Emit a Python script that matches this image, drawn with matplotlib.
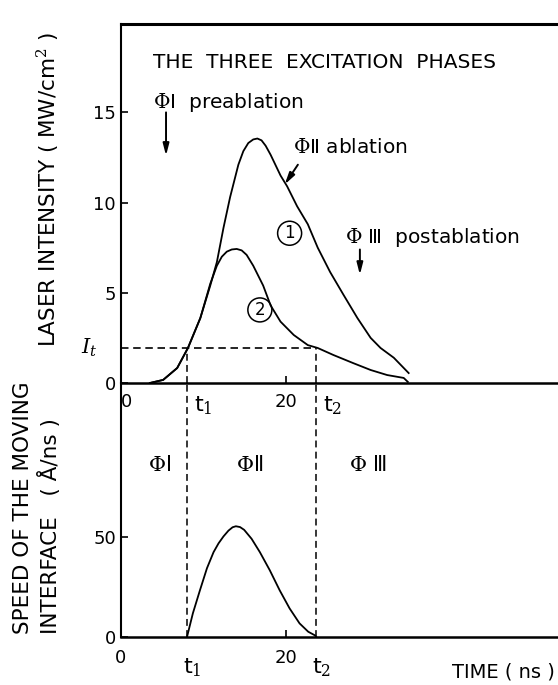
import matplotlib
matplotlib.use("Agg")
import matplotlib.pyplot as plt

plt.rcParams['font.family'] = ['DejaVu Sans']
plt.rcParams['mathtext.fontset'] = 'dejavuserif'

# laser pulses (ns, MW/cm2)
t_pulse1 = [3.5, 5.1, 6.8, 8.1, 9.6, 10.8, 11.6, 12.4, 13.2, 14.2, 14.8, 15.4,
            16.0, 16.5, 17.0, 17.5, 18.1, 19.3, 20.1, 21.3, 22.6, 23.8, 25.3,
            26.9, 28.6, 30.2, 31.4, 33.0, 34.8]
i_pulse1 = [0.0, 0.17, 0.83, 1.94, 3.6, 5.4, 6.7, 8.6, 10.3, 12.1, 12.85, 13.3,
            13.5, 13.55, 13.45, 13.15, 12.65, 11.5, 10.9, 9.8, 8.8, 7.5, 6.15,
            4.9, 3.6, 2.5, 1.94, 1.4, 0.55]
t_pulse2 = [3.5, 5.1, 6.8, 8.1, 9.6, 10.8, 11.6, 12.2, 12.8, 13.4, 14.0, 14.6,
            15.2, 16.0, 17.2, 18.1, 19.3, 20.9, 22.6, 23.8, 25.7, 28.1, 30.2,
            32.2, 34.2, 34.7]
i_pulse2 = [0.0, 0.17, 0.83, 1.94, 3.6, 5.5, 6.5, 7.0, 7.28, 7.4, 7.43, 7.35,
            7.1, 6.5, 5.4, 4.3, 3.4, 2.66, 2.1, 1.94, 1.55, 1.1, 0.72,
            0.44, 0.28, 0.06]

# speed of the moving interface (A/ns)
t_speed = [8.0, 8.7, 9.55, 10.4, 11.2, 11.8, 12.4, 13.0, 13.5, 13.9, 14.4,
           14.9, 15.8, 16.8, 18.0, 19.2, 20.4, 21.6, 22.65, 23.45, 23.6]
v_speed = [0.0, 11.7, 23.2, 34.3, 42.4, 46.8, 50.3, 53.2, 54.9, 55.4, 55.0,
           53.6, 49.1, 42.4, 33.3, 23.2, 14.1, 6.6, 2.4, 0.6, 0.0]

I_t = 1.95
t1 = 8.0
t2 = 23.6

fig = plt.figure(figsize=(5.58, 6.85), dpi=100)
ax1 = fig.add_axes([0.2168, 0.4409, 0.7867, 0.5241])
ax2 = fig.add_axes([0.2168, 0.0708, 0.7867, 0.3701])
ax2.patch.set_visible(False)

lw = 1.3
dash = (0, (4.5, 2.8))

ax1.plot(t_pulse1, i_pulse1, color='black', lw=lw)
ax1.plot(t_pulse2, i_pulse2, color='black', lw=lw)
ax1.hlines(I_t, 0, t2, colors='black', lw=1.2, linestyles=dash)
ax1.vlines([t1, t2], 0, I_t, colors='black', lw=1.1, linestyles=dash)
ax1.set_xlim(0, 53.1)
ax1.set_ylim(0, 19.9)

ax2.plot(t_speed, v_speed, color='black', lw=lw)
ax2.vlines([t1, t2], 0, 127.4, colors='black', lw=1.1, linestyles=dash)
ax2.set_xlim(0, 53.1)
ax2.set_ylim(0, 127.4)

for ax in (ax1, ax2):
    ax.spines['right'].set_visible(False)
    ax.spines['left'].set_linewidth(1.5)
    ax.spines['bottom'].set_linewidth(1.8)
    ax.tick_params(direction='in', length=5, width=1.2, labelsize=13,
                   top=False, right=False)
ax1.spines['top'].set_linewidth(2.2)
ax2.spines['top'].set_visible(False)

ax1.set_yticks([0, 5, 10, 15])
ax1.set_xticks([0, 20], ['0', '20'])
ax1.tick_params(axis='x', pad=7)
ax1.get_xticklabels()[0].set_ha('left')
ax2.set_yticks([0, 50])
ax2.set_xticks([0, 20], ['0', '20'])
ax2.tick_params(axis='x', pad=9)

# t1 / t2 labels
for t, s in ((t1, r't$_1$'), (t2, r't$_2$')):
    ax1.annotate(s, xy=(t, 0), xycoords=('data', 'axes fraction'),
                 xytext=(5, -8), textcoords='offset points',
                 ha='left', va='top', fontsize=16)
    ax2.annotate(s, xy=(t, 0), xycoords=('data', 'axes fraction'),
                 xytext=(4, -14), textcoords='offset points',
                 ha='center', va='top', fontsize=16)

ax1.annotate(r'$I_t$', xy=(0, I_t), xycoords=('axes fraction', 'data'),
             xytext=(-17, 0), textcoords='offset points',
             ha='right', va='center', fontsize=15)

# annotations in the top panel
ax1.text(3.9, 17.75, 'THE  THREE  EXCITATION  PHASES', fontsize=14.5,
         ha='left', va='center')
ax1.text(3.9, 15.25, r'$\Phi$Ⅰ  preablation', fontsize=14.5,
         ha='left', va='baseline')
ax1.text(20.8, 12.75, r'$\Phi$Ⅱ ablation', fontsize=14.5,
         ha='left', va='baseline')
ax1.text(27.1, 7.76, r'$\Phi$ Ⅲ  postablation', fontsize=14.5,
         ha='left', va='baseline')

arrow = dict(arrowstyle='-|>,head_width=0.18,head_length=0.7', lw=1.4,
             color='black', shrinkA=0, shrinkB=0)
ax1.annotate('', xy=(5.45, 12.6), xytext=(5.45, 15.0), arrowprops=arrow)
ax1.annotate('', xy=(28.9, 6.0), xytext=(28.9, 7.4), arrowprops=arrow)
ax1.annotate('', xy=(19.8, 11.0), xytext=(21.4, 12.1), arrowprops=arrow)

circ = dict(boxstyle='circle,pad=0.18', fc='none', ec='black', lw=1.1)
ax1.text(20.4, 8.3, '1', fontsize=12, ha='center', va='center', bbox=circ)
ax1.text(16.8, 4.05, '2', fontsize=12, ha='center', va='center', bbox=circ)

# phase labels in the lower panel
ax2.text(4.7, 86, r'$\Phi$Ⅰ', fontsize=15, ha='center', va='center')
ax2.text(15.6, 86, r'$\Phi$Ⅱ', fontsize=15, ha='center', va='center')
ax2.text(29.9, 86, r'$\Phi$ Ⅲ', fontsize=15, ha='center', va='center')

fig.text(48 / 558, 1 - 190 / 685, r'LASER INTENSITY ( MW/cm$^2$ )',
         rotation=90, ha='center', va='center', fontsize=15.5)
fig.text(37 / 558, 1 - 634 / 685, 'SPEED OF THE MOVING\nINTERFACE   ( Å/ns )',
         rotation=90, ha='center', va='bottom', multialignment='left',
         linespacing=1.3, fontsize=15.5)
fig.text(555 / 558, 1 - 672 / 685, 'TIME ( ns )', ha='right', va='center',
         fontsize=14)

fig.savefig('out.png', dpi=100)
